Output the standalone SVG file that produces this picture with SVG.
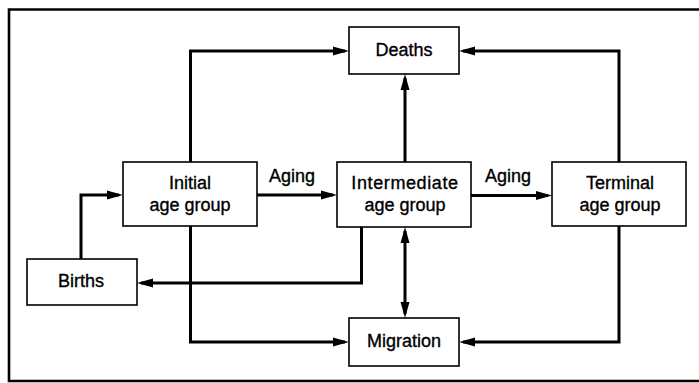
<svg xmlns="http://www.w3.org/2000/svg" width="699" height="383" viewBox="0 0 699 383">
  <style>
    .box { fill: #ffffff; stroke: #000000; stroke-width: 1.6; }
    .label { font-family: "Liberation Sans", Arial, sans-serif; font-size: 18px; fill: #000000; stroke: #000000; stroke-width: 0.35; text-anchor: middle; }
    .conn { fill: none; stroke: #000000; stroke-width: 3; stroke-linejoin: miter; }
    .frame { fill: none; stroke: #000000; stroke-width: 2.6; }
  </style>
  <defs>
    <marker id="arrow" markerUnits="userSpaceOnUse" markerWidth="16" markerHeight="10" viewBox="0 0 16 10" refX="12" refY="5" orient="auto-start-reverse">
      <path d="M0,0.5 L16,5 L0,9.5 Z" fill="#000000"/>
    </marker>
  </defs>

  <rect width="699" height="383" fill="#ffffff"/>
  <!-- border: top, left and bottom edges only -->
  <path class="frame" d="M699,9.5 H9 V381 H699"/>

  <g id="connectors">
    <path class="conn" d="M190.5,162 V51 H345" marker-end="url(#arrow)"/>
    <path class="conn" d="M619,162 V51 H463" marker-end="url(#arrow)"/>
    <path class="conn" d="M405,162 V78" marker-end="url(#arrow)"/>
    <path class="conn" d="M190.5,226 V342 H345" marker-end="url(#arrow)"/>
    <path class="conn" d="M619,226 V342 H463" marker-end="url(#arrow)"/>
    <path class="conn" d="M405,231 V314" marker-start="url(#arrow)" marker-end="url(#arrow)"/>
    <path class="conn" d="M361.5,227 V283 H141" marker-end="url(#arrow)"/>
    <path class="conn" d="M81,259 V195 H119" marker-end="url(#arrow)"/>
    <path class="conn" d="M257,195 H333" marker-end="url(#arrow)"/>
    <path class="conn" d="M471,195.5 H548" marker-end="url(#arrow)"/>
    <text class="label" x="292" y="182">Aging</text>
    <text class="label" x="508" y="182">Aging</text>
  </g>

  <g id="deaths">
    <rect class="box" x="349" y="27" width="110" height="47"/>
    <text class="label" x="404" y="56">Deaths</text>
  </g>
  <g id="initial">
    <rect class="box" x="123" y="162" width="134" height="64"/>
    <text class="label" x="190" y="189">Initial</text>
    <text class="label" x="190" y="210.5">age group</text>
  </g>
  <g id="intermediate">
    <rect class="box" x="337" y="162" width="134" height="65"/>
    <text class="label" x="405" y="189" letter-spacing="0.6">Intermediate</text>
    <text class="label" x="405" y="210.5">age group</text>
  </g>
  <g id="terminal">
    <rect class="box" x="552" y="162" width="134" height="64"/>
    <text class="label" x="620" y="189">Terminal</text>
    <text class="label" x="620" y="210.5">age group</text>
  </g>
  <g id="births">
    <rect class="box" x="27" y="259" width="110" height="46"/>
    <text class="label" x="81" y="287">Births</text>
  </g>
  <g id="migration">
    <rect class="box" x="349" y="318" width="110" height="48"/>
    <text class="label" x="404" y="347">Migration</text>
  </g>
</svg>
